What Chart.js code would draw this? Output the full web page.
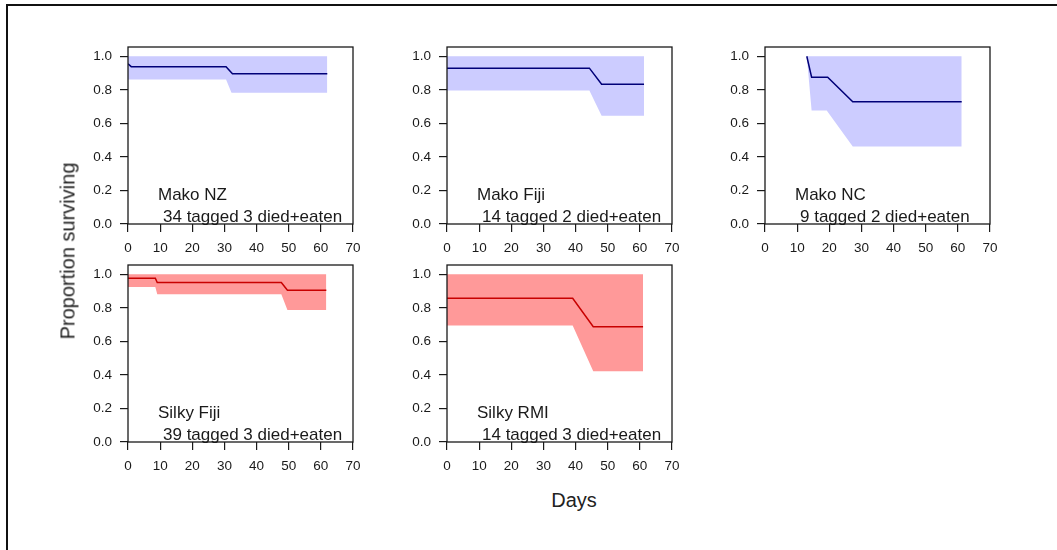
<!DOCTYPE html>
<html>
<head>
<meta charset="utf-8">
<title>Proportion surviving</title>
<script src="https://cdn.jsdelivr.net/npm/chart.js"></script>
<style>
    body { margin: 0; background: #fff; font-family: 'Liberation Sans', Arial, sans-serif; }
    #page { position: relative; width: 1057px; height: 550px; overflow: hidden; background: #fff; }
    .frame { position: absolute; left: 6px; top: 4px; right: -10px; bottom: -10px;
             border-left: 2px solid #111; border-top: 2px solid #111; }
    canvas.panel { position: absolute; }
    .ylab { position: absolute; left: 68px; top: 251px; transform: translate(-50%, -50%) rotate(-90deg);
            font-size: 20px; white-space: nowrap; color: #222; }
    .xlab { position: absolute; left: 574px; top: 500px; transform: translate(-50%, -50%);
            font-size: 20px; color: #222; }
</style>
</head>
<body>
<div id="page">
    <div class="frame"></div>
    <canvas class="panel" id="makoNZ"></canvas>
    <canvas class="panel" id="makoFiji"></canvas>
    <canvas class="panel" id="makoNC"></canvas>
    <canvas class="panel" id="silkyFiji"></canvas>
    <canvas class="panel" id="silkyRMI"></canvas>
    <div class="ylab">Proportion surviving</div>
    <div class="xlab">Days</div>
</div>

<script>
    // values (days at liberty, proportion surviving, 95% band)
    var makoNZDays = [0, 1, 30.5, 32.5, 62];
    var makoNZSurv = [0.955, 0.938, 0.938, 0.895, 0.895];
    var makoNZBandDays = [0, 30.5, 32.2, 62];
    var makoNZLower = [0.861, 0.861, 0.782, 0.782];
    var makoNZUpper = [1, 1, 1, 1];

    var makoFijiDays = [0, 44.3, 48.1, 61.3];
    var makoFijiSurv = [0.929, 0.929, 0.833, 0.833];
    var makoFijiBandDays = [0, 44.3, 48.1, 61.3];
    var makoFijiLower = [0.796, 0.796, 0.645, 0.645];
    var makoFijiUpper = [1, 1, 1, 1];

    var makoNCDays = [13, 14.5, 19.5, 27.3, 61.2];
    var makoNCSurv = [1.0, 0.875, 0.875, 0.728, 0.728];
    var makoNCBandDays = [13, 14.5, 19.2, 27.3, 61.2];
    var makoNCLower = [1.0, 0.676, 0.676, 0.462, 0.462];
    var makoNCUpper = [1, 1, 1, 1, 1];

    var silkyFijiDays = [0, 8.5, 9.1, 47.7, 49.6, 61.7];
    var silkyFijiSurv = [0.976, 0.976, 0.950, 0.950, 0.904, 0.904];
    var silkyFijiBandDays = [0, 8.5, 9.1, 47.7, 49.6, 61.7];
    var silkyFijiLower = [0.924, 0.924, 0.880, 0.880, 0.787, 0.787];
    var silkyFijiUpper = [1, 1, 1, 1, 1, 1];

    var silkyRMIDays = [0, 39.1, 45.5, 61];
    var silkyRMISurv = [0.857, 0.857, 0.687, 0.687];
    var silkyRMIBandDays = [0, 39.1, 45.5, 61];
    var silkyRMILower = [0.695, 0.695, 0.422, 0.422];
    var silkyRMIUpper = [1, 1, 1, 1];

    var xTicks = [0, 10, 20, 30, 40, 50, 60, 70];
    var yTicks = [0, 0.2, 0.4, 0.6, 0.8, 1.0];

    var BLUE_FILL = 'rgb(204, 204, 255)';
    var BLUE_LINE = 'rgb(0, 0, 120)';
    var RED_FILL = 'rgb(255, 153, 153)';
    var RED_LINE = 'rgb(200, 0, 0)';
    var INK = '#1a1a1a';
    var FONT = "'Liberation Sans', Arial, sans-serif";

    function pts(xs, ys) {
        var out = [];
        for (var i = 0; i < xs.length; i++) out.push({ x: xs[i], y: ys[i] });
        return out;
    }

    // box round the plot area plus the species / sample size text
    var panelText = {
        id: 'panelText',
        afterDraw: function (chart, args, opts) {
            var a = chart.chartArea, ctx = chart.ctx;
            ctx.save();
            ctx.strokeStyle = INK;
            ctx.lineWidth = 1.3;
            ctx.strokeRect(a.left, a.top, a.right - a.left, a.bottom - a.top);
            ctx.fillStyle = INK;
            ctx.font = '17px ' + FONT;
            ctx.textBaseline = 'alphabetic';
            ctx.fillText(opts.title, a.left + 30, a.bottom - 24);
            ctx.fillText(opts.note, a.left + 35, a.bottom - 2);
            ctx.restore();
        }
    };

    function panel(id, box, days, surv, bandDays, lower, upper, fillCol, lineCol, title, note) {
        var padL = 60, padT = 10, padR = 20, padB = 40;
        var cv = document.getElementById(id);
        cv.width = box[2] - box[0] + padL + padR;
        cv.height = box[3] - box[1] + padT + padB;
        cv.style.left = (box[0] - padL) + 'px';
        cv.style.top = (box[1] - padT) + 'px';
        new Chart(cv, {
            type: 'line',
            data: {
                datasets: [
                    { data: pts(bandDays, upper), borderColor: 'transparent', borderWidth: 0, pointRadius: 0, fill: '+1', backgroundColor: fillCol, order: 2 },
                    { data: pts(bandDays, lower), borderColor: 'transparent', borderWidth: 0, pointRadius: 0, fill: false, order: 3 },
                    { data: pts(days, surv), borderColor: lineCol, borderWidth: 1.5, pointRadius: 0, fill: false, tension: 0, order: 0 }
                ]
            },
            options: {
                responsive: false,
                animation: false,
                layout: { padding: { left: 0, top: padT, right: padR, bottom: 0 } },
                plugins: {
                    legend: { display: false },
                    tooltip: { enabled: false },
                    panelText: { title: title, note: note }
                },
                scales: {
                    x: {
                        type: 'linear', min: 0, max: 70,
                        afterBuildTicks: function (s) { s.ticks = xTicks.map(function (v) { return { value: v }; }); },
                        ticks: { color: INK, font: { size: 13.5, family: FONT }, padding: 8, maxRotation: 0, autoSkip: false },
                        grid: { drawOnChartArea: false, tickLength: 8, color: INK, lineWidth: 1.2 },
                        border: { display: false },
                        afterFit: function (s) { s.height = padB; s.paddingLeft = 0; s.paddingRight = 0; s.paddingTop = 0; s.paddingBottom = 0; }
                    },
                    y: {
                        type: 'linear', min: 0, max: 1.055,
                        afterBuildTicks: function (s) { s.ticks = yTicks.map(function (v) { return { value: v }; }); },
                        ticks: { color: INK, font: { size: 13.5, family: FONT }, padding: 8,
                                 callback: function (v) { return Number(v).toFixed(1); } },
                        grid: { drawOnChartArea: false, tickLength: 8, color: INK, lineWidth: 1.2 },
                        border: { display: false },
                        afterFit: function (s) { s.width = padL; s.paddingLeft = 0; s.paddingRight = 0; s.paddingTop = 0; s.paddingBottom = 0; }
                    }
                }
            },
            plugins: [panelText]
        });
    }

    panel('makoNZ', [128, 47, 353, 224], makoNZDays, makoNZSurv, makoNZBandDays, makoNZLower, makoNZUpper,
        BLUE_FILL, BLUE_LINE, 'Mako NZ', '34 tagged 3 died+eaten');
    panel('makoFiji', [447, 47, 672, 224], makoFijiDays, makoFijiSurv, makoFijiBandDays, makoFijiLower, makoFijiUpper,
        BLUE_FILL, BLUE_LINE, 'Mako Fiji', '14 tagged 2 died+eaten');
    panel('makoNC', [765, 47, 990, 224], makoNCDays, makoNCSurv, makoNCBandDays, makoNCLower, makoNCUpper,
        BLUE_FILL, BLUE_LINE, 'Mako NC', '9 tagged 2 died+eaten');
    panel('silkyFiji', [128, 265, 353, 442], silkyFijiDays, silkyFijiSurv, silkyFijiBandDays, silkyFijiLower, silkyFijiUpper,
        RED_FILL, RED_LINE, 'Silky Fiji', '39 tagged 3 died+eaten');
    panel('silkyRMI', [447, 265, 672, 442], silkyRMIDays, silkyRMISurv, silkyRMIBandDays, silkyRMILower, silkyRMIUpper,
        RED_FILL, RED_LINE, 'Silky RMI', '14 tagged 3 died+eaten');
</script>
</body>
</html>
